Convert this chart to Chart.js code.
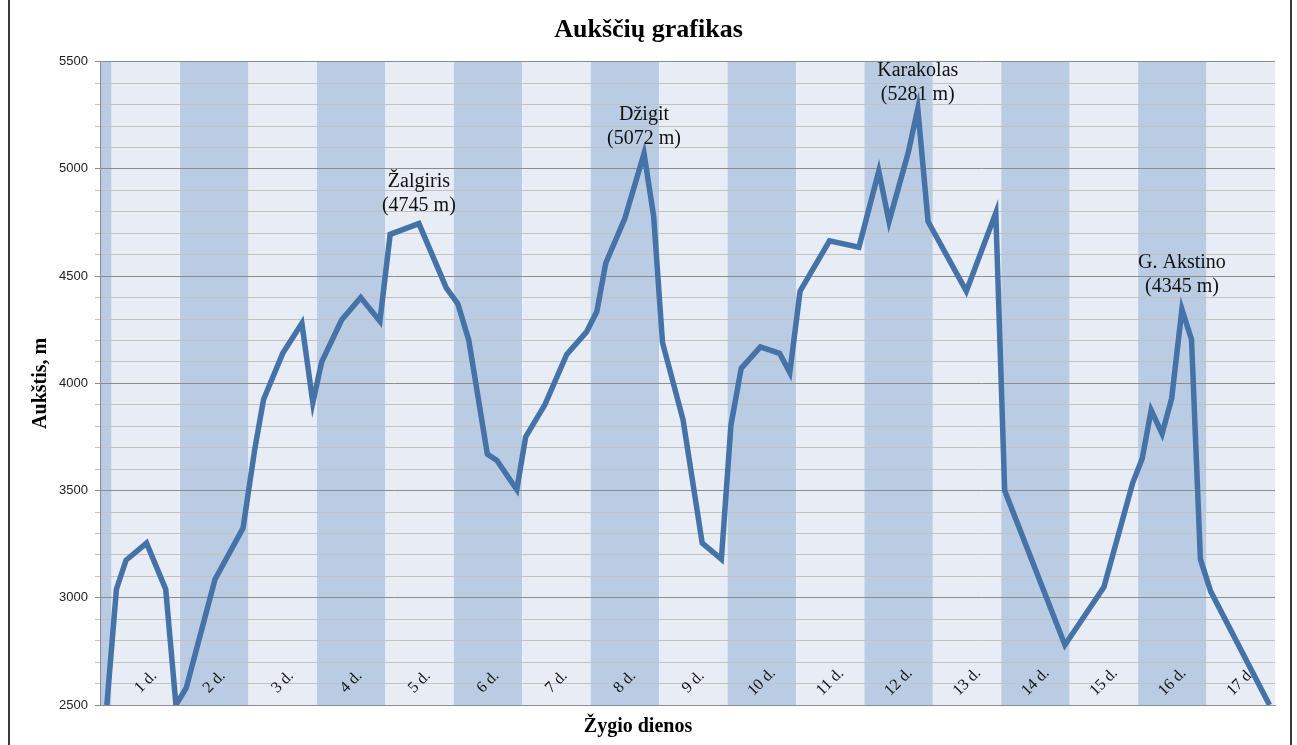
<!DOCTYPE html>
<html>
<head>
<meta charset="utf-8">
<title>Aukščių grafikas</title>
<script src="https://cdn.jsdelivr.net/npm/chart.js@4/dist/chart.umd.min.js"></script>
<style>
    body { margin: 0; background: #ffffff; }
    #wrap { position: relative; width: 1297px; height: 745px; }
    #frame {
        position: absolute; left: 8px; top: 0; width: 1280px; height: 745px;
        border-left: 2px solid #3a3a3a; border-right: 2px solid #3a3a3a;
        pointer-events: none;
    }
</style>
</head>
<body>
<div id="wrap">
    <canvas id="aukstisChart" width="1297" height="745"></canvas>
    <div id="frame"></div>
</div>
<script>
// duomenys
const dienos = ["1 d.", "2 d.", "3 d.", "4 d.", "5 d.", "6 d.", "7 d.", "8 d.", "9 d.",
    "10 d.", "11 d.", "12 d.", "13 d.", "14 d.", "15 d.", "16 d.", "17 d."];

// kelio taškai: padėtis dienomis ir aukštis metrais
const taskaiX = [-0.07, 0.07, 0.21, 0.51, 0.79, 0.94, 1.09, 1.51, 1.92, 2.09,
    2.22, 2.50, 2.78, 2.94, 3.07, 3.36, 3.64, 3.92, 4.07, 4.49,
    4.89, 5.06, 5.22, 5.49, 5.63, 5.92, 6.05, 6.33, 6.65, 6.94,
    7.09, 7.22, 7.50, 7.78, 7.92, 8.05, 8.35, 8.63, 8.91, 9.05,
    9.20, 9.48, 9.76, 9.91, 10.06, 10.49, 10.92, 11.21, 11.36, 11.64,
    11.78, 11.93, 12.49, 12.92, 13.05, 13.93, 14.50, 14.92, 15.06, 15.19,
    15.35, 15.49, 15.64, 15.78, 15.91, 16.06, 16.92];
const aukstis = [2500, 3040, 3175, 3255, 3040, 2500, 2580, 3085, 3325, 3690,
    3925, 4140, 4280, 3910, 4100, 4295, 4400, 4290, 4695, 4745,
    4445, 4370, 4200, 3670, 3640, 3505, 3750, 3900, 4135, 4240,
    4335, 4560, 4770, 5072, 4780, 4190, 3830, 3255, 3180, 3805,
    4070, 4170, 4140, 4050, 4430, 4665, 4635, 4990, 4755, 5075,
    5281, 4755, 4430, 4795, 3500, 2780, 3050, 3535, 3650, 3875,
    3765, 3930, 4345, 4205, 3180, 3030, 2500];

// viršūnės
const virsunes = ["Žalgiris", "Džigit", "Karakolas", "G. Akstino"];
const virsuniuX = [4.49, 7.78, 11.78, 15.64];
const virsuniuAukstis = [4745, 5072, 5281, 4345];

const yTikslai = [2500, 3000, 3500, 4000, 4500, 5000, 5500];

const taskai = [];
for (let i = 0; i < taskaiX.length; i++) {
    taskai.push({ x: taskaiX[i], y: aukstis[i] });
}

const serif = "'Liberation Serif', 'Times New Roman', serif";

// fono juostos ir dienų pavadinimai
const juostos = {
    id: "juostos",
    beforeDraw(chart) {
        const ctx = chart.ctx;
        const a = chart.chartArea;
        const x = chart.scales.x;
        ctx.save();
        ctx.fillStyle = "#ffffff";
        ctx.fillRect(0, 0, chart.width, chart.height);
        for (let k = 0; k <= dienos.length; k++) {
            const x0 = Math.max(x.getPixelForValue(k - 1), a.left);
            const x1 = x.getPixelForValue(k);
            ctx.fillStyle = k % 2 === 0 ? "#b9cce3" : "#e8edf5";
            ctx.fillRect(x0, a.top, x1 - x0, a.bottom - a.top);
        }
        ctx.restore();
    },
    beforeDatasetsDraw(chart) {
        const ctx = chart.ctx;
        const a = chart.chartArea;
        const x = chart.scales.x;
        ctx.save();
        ctx.font = "16px " + serif;
        ctx.fillStyle = "#111111";
        ctx.textAlign = "center";
        ctx.textBaseline = "middle";
        for (let i = 0; i < dienos.length; i++) {
            ctx.save();
            ctx.translate(x.getPixelForValue(i + 0.5), a.bottom - 23);
            ctx.rotate(-Math.PI / 4);
            ctx.fillText(dienos[i], 0, 0);
            ctx.restore();
        }
        ctx.restore();
    },
    afterDatasetsDraw(chart) {
        const ctx = chart.ctx;
        const x = chart.scales.x;
        const y = chart.scales.y;
        const tarpai = [18, 15, 14, 23];
        ctx.save();
        ctx.font = "20px " + serif;
        ctx.fillStyle = "#111111";
        ctx.textAlign = "center";
        ctx.textBaseline = "middle";
        for (let i = 0; i < virsunes.length; i++) {
            const px = x.getPixelForValue(virsuniuX[i]);
            const py = y.getPixelForValue(virsuniuAukstis[i]) - tarpai[i];
            ctx.fillText("(" + virsuniuAukstis[i] + " m)", px, py);
            ctx.fillText(virsunes[i], px, py - 24);
        }
        // x ašies pavadinimas
        ctx.font = "bold 20px " + serif;
        ctx.fillStyle = "#000000";
        ctx.fillText("Žygio dienos", 638, 727);
        ctx.restore();
    }
};

new Chart(document.getElementById("aukstisChart"), {
    type: "line",
    data: {
        datasets: [{
            label: "Aukštis",
            data: taskai,
            borderColor: "#4572a7",
            borderWidth: 5.5,
            pointRadius: 0,
            tension: 0,
            fill: false
        }]
    },
    options: {
        responsive: false,
        animation: false,
        devicePixelRatio: 1,
        layout: { padding: { left: 0, right: 0, top: 0, bottom: 0 } },
        plugins: {
            legend: { display: false },
            tooltip: { enabled: false },
            title: {
                display: true,
                text: "Aukščių grafikas",
                color: "#000000",
                font: { family: serif, size: 26, weight: "bold", lineHeight: 1.2 },
                padding: { top: 15, bottom: 15.5 }
            }
        },
        scales: {
            x: {
                type: "linear",
                min: -0.17,
                max: 17,
                ticks: { display: false },
                grid: { display: false },
                border: { display: true, color: "#8c8c8c" },
                afterFit(scale) { scale.height = 40; }
            },
            y: {
                min: 2500,
                max: 5500,
                ticks: {
                    stepSize: 100,
                    maxTicksLimit: 40,
                    autoSkip: false,
                    padding: 7,
                    color: "#222222",
                    font: { family: "'Liberation Sans', Arial, sans-serif", size: 13 },
                    callback: function (v) { return yTikslai.includes(v) ? String(v) : ""; }
                },
                grid: {
                    color: function (c) { return c.tick && c.tick.value % 500 === 0 ? "#8c8c8c" : "#c2c2c2"; },
                    lineWidth: 1,
                    tickLength: 5
                },
                border: { color: "#8c8c8c" },
                title: {
                    display: true,
                    text: "Aukštis, m",
                    color: "#000000",
                    font: { family: serif, size: 20, weight: "bold", lineHeight: 1.2 },
                    padding: { top: 29, bottom: 0 }
                },
                afterFit(scale) { scale.width = 100; }
            },
            // tuščia dešinė paraštė, kad pavadinimas būtų per visą plotį
            y2: {
                position: "right",
                min: 2500,
                max: 5500,
                ticks: { display: false },
                grid: { display: false },
                border: { display: false },
                afterFit(scale) { scale.width = 22; }
            }
        }
    },
    plugins: [juostos]
});
</script>
</body>
</html>
